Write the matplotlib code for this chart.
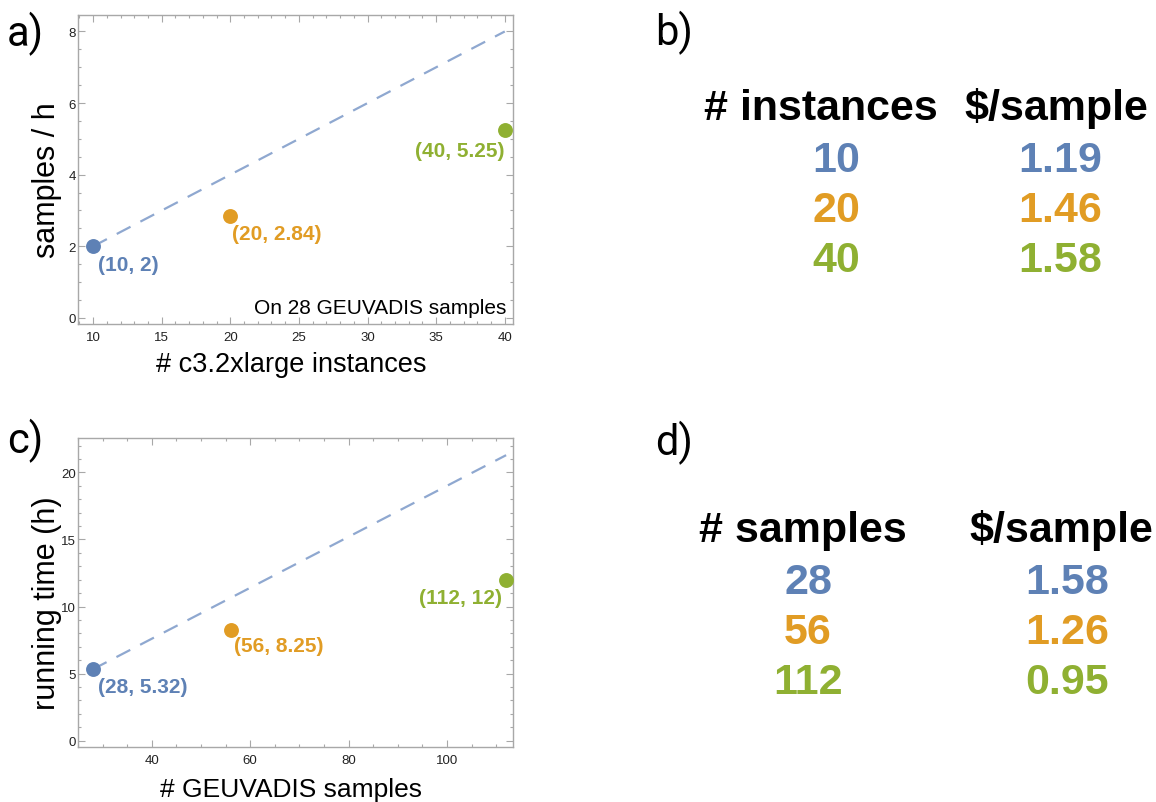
import matplotlib
matplotlib.use("Agg")
import matplotlib.pyplot as plt
from matplotlib.ticker import MultipleLocator

# ---------------- data ----------------
colors = ["#5E81B5", "#E19C24", "#8FB032"]

instances = [10, 20, 40]
samples_per_h = [2, 2.84, 5.25]
labels_a = ["(10, 2)", "(20, 2.84)", "(40, 5.25)"]
ideal_a_x = [10, 40]
ideal_a_y = [2, 8]

n_samples = [28, 56, 112]
run_time_h = [5.32, 8.25, 12]
labels_c = ["(28, 5.32)", "(56, 8.25)", "(112, 12)"]
ideal_c_x = [28, 112]
ideal_c_y = [5.32, 21.28]

table_b_header = ["# instances", "$/sample"]
table_b_col1 = ["10", "20", "40"]
table_b_col2 = ["1.19", "1.46", "1.58"]

table_d_header = ["# samples", "$/sample"]
table_d_col1 = ["28", "56", "112"]
table_d_col2 = ["1.58", "1.26", "0.95"]

# ---------------- figure ----------------
W, H = 1156, 803
fig = plt.figure(figsize=(W / 100, H / 100), dpi=100)
plt.rcParams["font.family"] = ["Liberation Sans", "DejaVu Sans"]


def fx(px):
    return px / W


def fy(py):
    return 1 - py / H


FRAME = "#A8A8A8"


def style_axes(ax, xmaj, xmin, ymaj, ymin):
    for s in ax.spines.values():
        s.set_color(FRAME)
        s.set_linewidth(1.0)
    ax.xaxis.set_major_locator(MultipleLocator(xmaj))
    ax.xaxis.set_minor_locator(MultipleLocator(xmin))
    ax.yaxis.set_major_locator(MultipleLocator(ymaj))
    ax.yaxis.set_minor_locator(MultipleLocator(ymin))
    ax.tick_params(which="both", direction="in", top=True, right=True,
                   color=FRAME, width=0.8)
    ax.tick_params(which="major", length=5)
    ax.tick_params(which="minor", length=2.5)
    ax.tick_params(axis="x", which="major", labelsize=9.5, pad=5,
                   labelcolor="#222222")
    ax.tick_params(axis="y", which="major", labelsize=9.5, pad=1.5,
                   labelcolor="#222222")


def scatter_panel(ax, xs, ys, labels, offsets, ix, iy):
    ax.plot(ix, iy, color="#8FA8D0", lw=1.6, dashes=(7, 5), zorder=1)
    for x, y, lab, c, (dx, dy, ha) in zip(xs, ys, labels, colors, offsets):
        ax.scatter([x], [y], s=115, color=c, zorder=3, linewidths=0)
        ax.annotate(lab, (x, y), xytext=(dx, dy), textcoords="offset points",
                    ha=ha, va="center", color=c, fontsize=15,
                    fontweight="bold")


ax_h = 309 / H
ax_w = 435 / W

# ---- panel a ----
ax_a = fig.add_axes([fx(78), fy(325), ax_w, ax_h])
scatter_panel(ax_a, instances, samples_per_h, labels_a,
              [(3.6, -13, "left"), (1.4, -12.5, "left"), (-0.5, -15, "right")],
              ideal_a_x, ideal_a_y)
ax_a.set_xlim(8.9, 40.6)
ax_a.set_ylim(-0.17, 8.46)
style_axes(ax_a, 5, 1, 2, 0.5)
ax_a.set_xlabel("# c3.2xlarge instances", fontsize=19.5)
ax_a.xaxis.set_label_coords(0.49, -0.152)
ax_a.xaxis.label.set_va("baseline")
ax_a.set_ylabel("samples / h", fontsize=22)
ax_a.yaxis.set_label_coords(-0.036, 0.469)
ax_a.text(0.985, 0.055, "On 28 GEUVADIS samples", transform=ax_a.transAxes,
          ha="right", va="center", fontsize=15, color="black")

# ---- panel c ----
ax_c = fig.add_axes([fx(78), fy(748), ax_w, ax_h])
scatter_panel(ax_c, n_samples, run_time_h, labels_c,
              [(3.6, -12.5, "left"), (2.2, -11.5, "left"), (-3, -12.5, "right")],
              ideal_c_x, ideal_c_y)
ax_c.set_xlim(25.0, 113.4)
ax_c.set_ylim(-0.47, 22.56)
style_axes(ax_c, 20, 5, 5, 1)
ax_c.set_xlabel("# GEUVADIS samples", fontsize=19)
ax_c.xaxis.set_label_coords(0.49, -0.159)
ax_c.xaxis.label.set_va("baseline")
ax_c.set_ylabel("running time (h)", fontsize=22)
ax_c.yaxis.set_label_coords(-0.036, 0.468)

# ---- panel letters ----
for lab, (px, py) in zip(["a)", "b)", "c)", "d)"],
                         [(7, 34), (655, 33), (7, 441), (655, 443)]):
    fig.text(fx(px), fy(py), lab, fontsize=30, ha="left", va="center",
             family=["Roboto", "Liberation Sans"], fontweight="normal")


# ---- tables ----
def draw_table(header, col1, col2, hx, hy, vx, vy0, dy):
    for text, x in zip(header, hx):
        fig.text(fx(x), fy(hy), text, ha="center", va="baseline",
                 fontsize=31, fontweight="bold", color="black")
    for i, (a, b) in enumerate(zip(col1, col2)):
        y = vy0 + i * dy
        fig.text(fx(vx[0]), fy(y), a, ha="center", va="baseline",
                 fontsize=31, fontweight="bold", color=colors[i])
        fig.text(fx(vx[1]), fy(y), b, ha="center", va="baseline",
                 fontsize=31, fontweight="bold", color=colors[i])


draw_table(table_b_header, table_b_col1, table_b_col2,
           (821, 1056), 120, (836, 1060), 172, 50)
draw_table(table_d_header, table_d_col1, table_d_col2,
           (803, 1061), 542, (808, 1067), 594, 50)

fig.savefig("out.png", dpi=100)
